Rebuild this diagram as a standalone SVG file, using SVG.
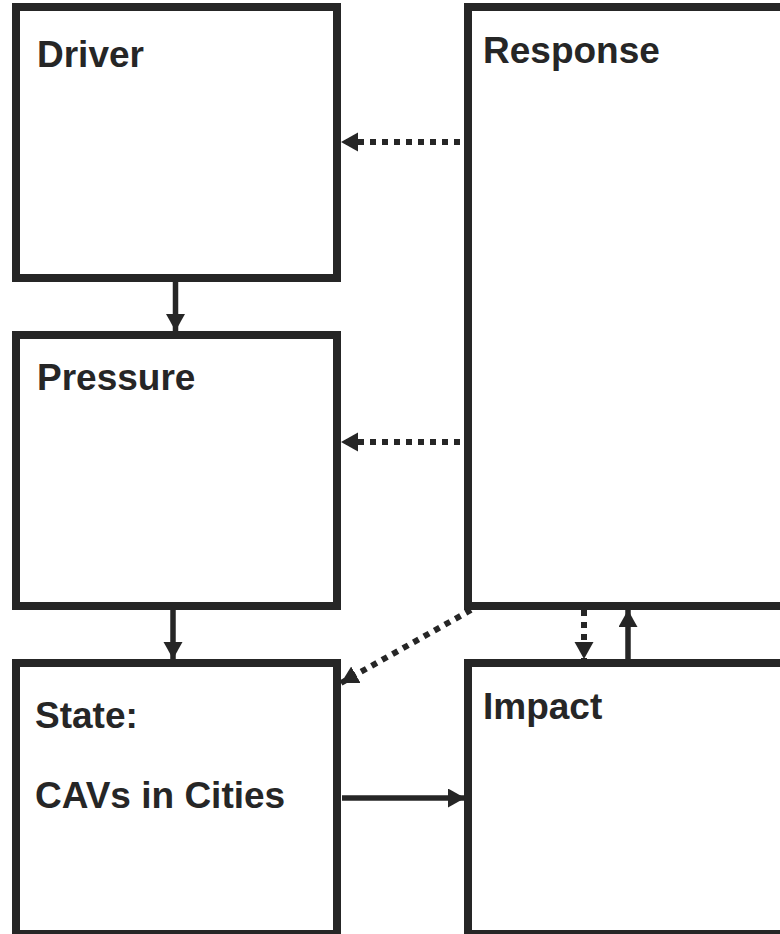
<svg xmlns="http://www.w3.org/2000/svg" width="780" height="934" viewBox="0 0 780 934">
<style>
.box{fill:#fff;stroke:#262626;stroke-width:8}
.lbl{font-family:"Liberation Sans",Arial,sans-serif;font-weight:bold;font-size:37px;fill:#262626}
.ln{fill:none;stroke:#262626;stroke-width:5.5}
.dot{stroke-dasharray:6 6;stroke-width:6}
</style>
<defs>
<marker id="ah" markerUnits="userSpaceOnUse" markerWidth="18" markerHeight="20" refX="17" refY="9.5" orient="auto">
<path d="M0,0 L17,9.5 L0,19 z" fill="#262626"/>
</marker>
</defs>
<rect width="780" height="934" fill="#fff"/>
<g id="driver"><rect class="box" x="16" y="7" width="321" height="271"/><text class="lbl" x="37" y="67">Driver</text></g>
<g id="pressure"><rect class="box" x="16" y="335" width="321" height="271"/><text class="lbl" x="37" y="390">Pressure</text></g>
<g id="state"><rect class="box" x="16" y="663" width="321" height="271"/><text class="lbl" x="35" y="728">State:</text><text class="lbl" x="35" y="808">CAVs in Cities</text></g>
<g id="response"><rect class="box" x="468" y="7" width="321" height="599"/><text class="lbl" x="483" y="63">Response</text></g>
<g id="impact"><rect class="box" x="468" y="663" width="321" height="271"/><text class="lbl" x="483" y="719">Impact</text></g>
<g id="connectors">
<path class="ln dot" d="M460,142 L341,142" marker-end="url(#ah)"/>
<path class="ln dot" d="M460,442 L341,442" marker-end="url(#ah)"/>
<path class="ln" d="M175.5,282 L175.5,331" marker-end="url(#ah)"/>
<path class="ln" d="M173,610 L173,659" marker-end="url(#ah)"/>
<path class="ln dot" d="M584,610 L584,659" marker-end="url(#ah)"/>
<path class="ln" d="M628,659 L628,610" marker-end="url(#ah)"/>
<path class="ln dot" d="M471,610 L341,683" marker-end="url(#ah)"/>
<path class="ln" d="M342,798 L465,798" marker-end="url(#ah)"/>
</g>
</svg>
